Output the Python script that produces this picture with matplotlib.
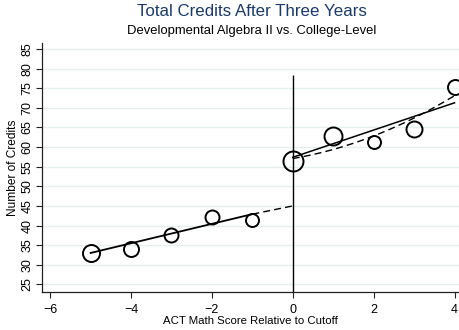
import matplotlib
matplotlib.use("Agg")
import matplotlib.pyplot as plt
import numpy as np

plt.rcParams["font.family"] = ["Liberation Sans", "DejaVu Sans"]

# Binned means of total credits by ACT math score relative to the cutoff
scores = [-5, -4, -3, -2, -1, 0, 1, 2, 3, 4]
credits = [33.1, 34.0, 37.6, 42.1, 41.5, 56.5, 62.8, 61.3, 64.6, 75.3]

# Fitted lines on each side of the cutoff
left_lin_x = [-5, -1]
left_lin_y = [33.0, 42.9]
left_ext_x = [-1, 0]
left_ext_y = [42.9, 45.0]
right_lin_x = [0, 4]
right_lin_y = [57.4, 71.3]
right_quad_x = [0, 1, 2, 3, 4]
right_quad_y = [57.0, 59.6, 62.8, 67.3, 73.2]

y_ticks = [25, 30, 35, 40, 45, 50, 55, 60, 65, 70, 75, 80, 85]
x_ticks = [-6, -4, -2, 0, 2, 4]

# marker diameters (pixels) scale with bin size
marker_px = [17, 15, 14, 14, 13, 20, 18, 13, 16, 15]

W, H = 459, 330
fig = plt.figure(figsize=(W / 100, H / 100), dpi=100)
ax = fig.add_axes([41.7 / W, 1 - 292 / H, 1 - 41.7 / W, (292 - 43) / H])

ymin, ymax = 23.04, 86.55
ax.set_xlim(-6.21, 4.11)
ax.set_ylim(ymin, ymax)

grid_c = "#E6EEEE"
ax.set_yticks(y_ticks)
ax.set_xticks(x_ticks)
ax.yaxis.grid(True, color=grid_c, lw=1.0)
ax.set_axisbelow(True)

for s in ["top", "right"]:
    ax.spines[s].set_visible(False)
for s in ["left", "bottom"]:
    ax.spines[s].set_color("#222222")
    ax.spines[s].set_linewidth(0.9)

ax.tick_params(axis="both", direction="out", length=4, width=0.8,
               color="#222222", labelsize=9)
ax.tick_params(axis="x", pad=4.4)
ax.tick_params(axis="y", pad=2)
for lab in ax.get_yticklabels():
    lab.set_rotation(90)
    lab.set_va("center")

# cutoff line
ax.vlines(0, ymin, 78.4, color="black", lw=1.0, zorder=2)

# fits
ax.plot(left_lin_x, left_lin_y, color="black", lw=1.3, zorder=3)
ax.plot(left_ext_x, left_ext_y, color="black", lw=1.0, ls=(0, (5, 3)), zorder=3)
ax.plot(right_lin_x, right_lin_y, color="black", lw=1.1, zorder=3)
qc = np.polyfit(right_quad_x, right_quad_y, 2)
xq = np.linspace(right_quad_x[0], right_quad_x[-1], 100)
ax.plot(xq, np.polyval(qc, xq), color="black", lw=1.0, ls=(0, (5, 3)), zorder=3)

# binned means
for x, y, d in zip(scores, credits, marker_px):
    ax.plot(x, y, marker="o", ms=d * 0.72, mfc="none", mec="black",
            mew=1.4, zorder=4, clip_on=False)

ax.set_xlabel("ACT Math Score Relative to Cutoff", fontsize=8.2, labelpad=0)
ax.set_ylabel("Number of Credits", fontsize=8.6, labelpad=1.5)

fig.text(252 / W, 1 - 12 / H, "Total Credits After Three Years",
         ha="center", va="center", fontsize=12.2, color="#1A3A6B")
fig.text(252 / W, 1 - 31 / H, "Developmental Algebra II vs. College-Level",
         ha="center", va="center", fontsize=9.4, color="black")

fig.savefig("out.png", dpi=100)
